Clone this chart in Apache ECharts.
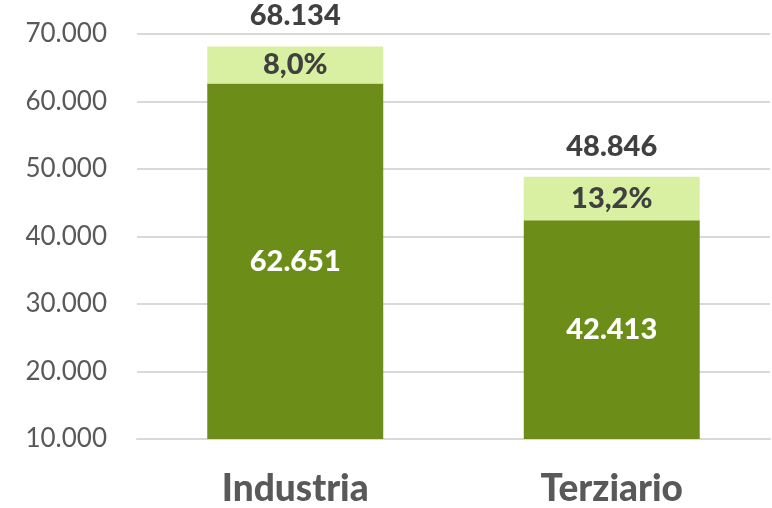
<!DOCTYPE html>
<html>
<head>
<meta charset="utf-8">
<script src="https://cdn.jsdelivr.net/npm/echarts@6/dist/echarts.min.js"></script>
<style>
  html, body { margin: 0; padding: 0; background: #fff; }
  #chart { width: 772px; height: 508px; }
</style>
</head>
<body>
<div id="chart"></div>
<script>
// categorie
const categories = ['Industria', 'Terziario'];
// valore base (parte scura)
const baseValues = [62651, 42413];
// totale (etichetta in cima)
const totalValues = [68134, 48846];
// quota della parte chiara
const shareLabels = ['8,0%', '13,2%'];
// tick asse y
const yMin = 10000, yMax = 70000, yStep = 10000;

const extraValues = totalValues.map((t, i) => t - baseValues[i]);
const fmt = v => String(v).replace(/\B(?=(\d{3})+(?!\d))/g, '.');
const FONT = 'Lato';

let myChart = echarts.init(document.getElementById('chart'));
myChart.setOption({
  animation: false,
  grid: { left: 137, right: 2, top: 34, bottom: 68 },
  xAxis: {
    type: 'category',
    data: categories,
    axisLine: { show: true, lineStyle: { color: '#d9d9d9', width: 2 } },
    axisTick: { show: false },
    axisLabel: {
      margin: 32, fontFamily: FONT, fontSize: 37, fontWeight: 900, color: '#595959'
    }
  },
  yAxis: {
    type: 'value',
    min: yMin, max: yMax, interval: yStep,
    axisLine: { show: false },
    axisTick: { show: false },
    splitLine: { lineStyle: { color: '#d9d9d9', width: 2 } },
    axisLabel: {
      margin: 30, fontFamily: FONT, fontSize: 26, color: '#595959',
      formatter: v => fmt(v)
    }
  },
  series: [
    {
      name: 'base',
      type: 'bar',
      stack: 'tot',
      barWidth: '55.6%',
      data: baseValues,
      itemStyle: { color: '#6c8e18' },
      label: {
        show: true, position: 'inside',
        fontFamily: FONT, fontSize: 29, fontWeight: 900, color: '#fff',
        formatter: p => fmt(p.value)
      }
    },
    {
      name: 'extra',
      type: 'bar',
      stack: 'tot',
      data: extraValues,
      itemStyle: { color: '#d9efa1' },
      label: {
        show: true, position: 'inside',
        fontFamily: FONT, fontSize: 29, fontWeight: 900, color: '#404040',
        formatter: p => shareLabels[p.dataIndex]
      }
    },
    {
      name: 'totale',
      type: 'bar',
      stack: 'tot',
      data: totalValues.map(() => 0),
      itemStyle: { color: 'transparent' },
      label: {
        show: true, position: 'top', distance: 16,
        fontFamily: FONT, fontSize: 29, fontWeight: 900, color: '#404040',
        formatter: p => fmt(totalValues[p.dataIndex])
      }
    }
  ]
});
</script>
</body>
</html>
